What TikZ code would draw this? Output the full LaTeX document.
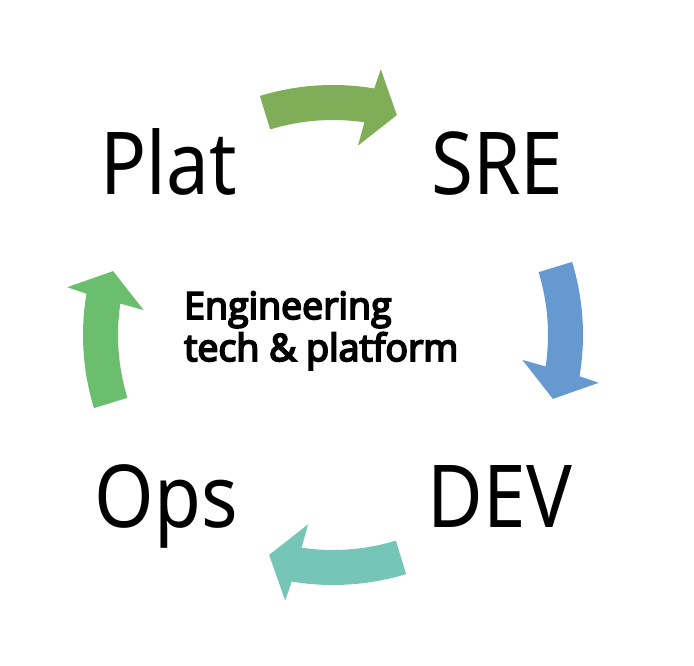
\documentclass[tikz,border=0pt]{standalone}
\usepackage{fontspec}
\usepackage{xcolor}
\usepackage{tikz}
\usetikzlibrary{positioning}

\newfontfamily\labelfont[FakeStretch=0.88]{Noto Sans}
\newfontfamily\hubfont[AutoFakeBold=5]{Open Sans}

\definecolor{platgreen}{HTML}{80AE58}
\definecolor{sreblue}{HTML}{6699D0}
\definecolor{devteal}{HTML}{76C6B8}
\definecolor{opsgreen}{HTML}{6BBE6E}

\begin{document}
\begin{tikzpicture}[
    x=1pt, y=-1pt,
    rolenode/.style={font=\labelfont\fontsize{86.8}{100}\selectfont, inner sep=0pt, anchor=base},
    hubnode/.style={font=\hubfont\bfseries\fontsize{37.5}{42}\selectfont, align=left, inner sep=0pt, anchor=base west}
]
\useasboundingbox (0,0) rectangle (694,666);

% curved arrows of the cycle
\begin{scope}[shift={(333,335)}, yscale=-1]
\foreach \a/\c in {107/platgreen, 17/sreblue, -73/devteal, -163/opsgreen}{
    \fill[\c] (\a:250) arc[start angle=\a, end angle=\a-26.5, radius=250]
        -- (\a-27.2:270) -- (\a-33.2:229) -- (\a-24.5:191) -- (\a-25.4:215)
        arc[start angle=\a-25.4, end angle=\a, radius=215] -- cycle;
}
\end{scope}

\node[rolenode](plat) at (168.5,195){Plat};
\node[rolenode](sre) at (497.5,195){SRE};
\node[rolenode](ops) at (166.5,527){Ops};
\node[rolenode](dev) at (500,527){DEV};
\node[hubnode](hub) at (184,361){Engineering\\tech \& platform};
\end{tikzpicture}
\end{document}
